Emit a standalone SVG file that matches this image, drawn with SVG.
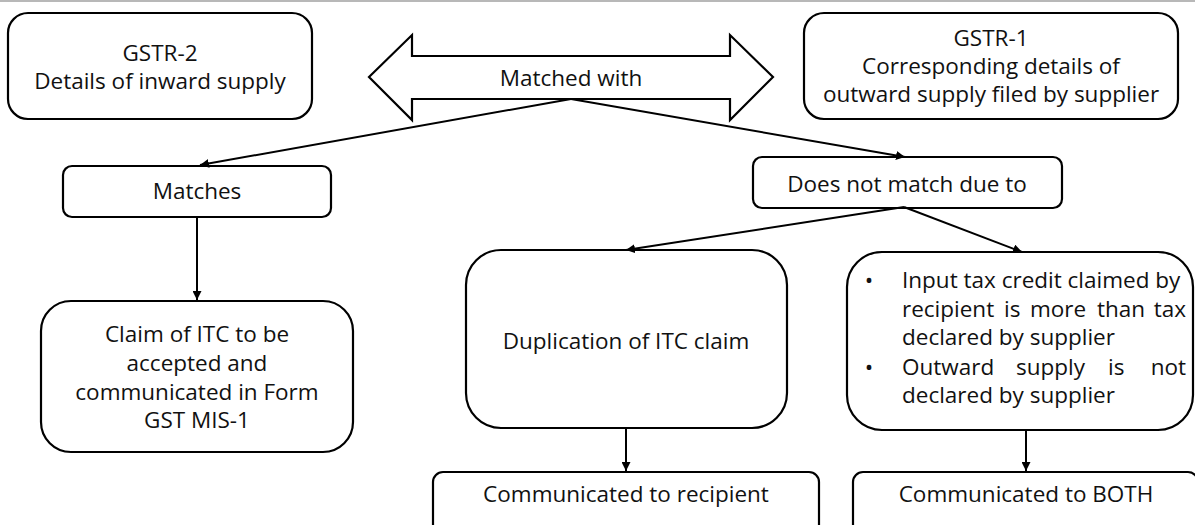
<svg xmlns="http://www.w3.org/2000/svg" width="1195" height="525" viewBox="0 0 1195 525">
<defs>
<style>
.box{fill:#fff;stroke:#000;stroke-width:2.2}
.t{font-family:"Open Sans","Noto Sans","Liberation Sans",sans-serif;font-size:22.5px;fill:#111}
.c{text-anchor:middle}
.e{text-anchor:end}
.ln{stroke:#000;stroke-width:2;fill:none}
</style>
<marker id="ah" viewBox="0 0 10 10" refX="10" refY="5" markerWidth="9" markerHeight="9" markerUnits="userSpaceOnUse" orient="auto">
<path d="M0,0 L10,5 L0,10 z" fill="#000"/>
</marker>
</defs>
<rect width="1195" height="525" fill="#fff"/>
<line x1="0" y1="1" x2="1195" y2="1" stroke="#a0a0a0" stroke-width="1.5"/>

<g id="gstr2">
<rect class="box" x="8" y="13" width="304" height="106" rx="20"/>
<text class="t c" x="160" y="61">GSTR-2</text>
<text class="t c" x="160" y="89">Details of inward supply</text>
</g>

<g id="gstr1">
<rect class="box" x="804" y="13" width="374" height="106" rx="20"/>
<text class="t c" x="991" y="46">GSTR-1</text>
<text class="t c" x="991" y="74">Corresponding details of</text>
<text class="t c" x="991" y="102">outward supply filed by supplier</text>
</g>

<g id="matched-with">
<path class="box" d="M369,77 L412,35 L412,56 L730,56 L730,35 L773,77 L730,120 L730,99 L412,99 L412,120 Z"/>
<text class="t c" x="571" y="86">Matched with</text>
</g>

<g id="matches">
<rect class="box" x="63" y="166" width="268" height="51" rx="9"/>
<text class="t c" x="197" y="199">Matches</text>
</g>

<g id="does-not-match">
<rect class="box" x="753" y="157" width="309" height="51" rx="9"/>
<text class="t c" x="907" y="192">Does not match due to</text>
</g>

<g id="claim">
<rect class="box" x="41" y="301" width="312" height="151" rx="30"/>
<text class="t c" x="197" y="342">Claim of ITC to be</text>
<text class="t c" x="197" y="371">accepted and</text>
<text class="t c" x="197" y="400">communicated in Form</text>
<text class="t c" x="197" y="428">GST MIS-1</text>
</g>

<g id="duplication">
<rect class="box" x="466" y="250" width="321" height="178" rx="35"/>
<text class="t c" x="626" y="349">Duplication of ITC claim</text>
</g>

<g id="reasons">
<rect class="box" x="847" y="252" width="346" height="178" rx="35"/>
<text class="t c" x="869" y="288">•</text>
<text class="t" x="902" y="288">Input tax credit claimed by</text>
<text class="t" x="902" y="317">recipient</text>
<text class="t" x="1004" y="317">is</text>
<text class="t" x="1030" y="317">more</text>
<text class="t" x="1097" y="317">than</text>
<text class="t e" x="1186" y="317">tax</text>
<text class="t" x="902" y="345">declared by supplier</text>
<text class="t c" x="869" y="375">•</text>
<text class="t" x="902" y="375">Outward</text>
<text class="t" x="1016" y="375">supply</text>
<text class="t" x="1108" y="375">is</text>
<text class="t e" x="1186" y="375">not</text>
<text class="t" x="902" y="403">declared by supplier</text>
</g>

<g id="to-recipient">
<rect class="box" x="433" y="472" width="386" height="70" rx="10"/>
<text class="t c" x="626" y="502">Communicated to recipient</text>
</g>

<g id="to-both">
<rect class="box" x="853" y="472" width="345" height="70" rx="10"/>
<text class="t c" x="1026" y="502">Communicated to BOTH</text>
</g>

<g id="connectors">
<line class="ln" x1="571" y1="99" x2="200" y2="165" marker-end="url(#ah)"/>
<line class="ln" x1="571" y1="99" x2="905" y2="157" marker-end="url(#ah)"/>
<line class="ln" x1="197" y1="217" x2="197" y2="300" marker-end="url(#ah)"/>
<line class="ln" x1="904" y1="207" x2="626" y2="250" marker-end="url(#ah)"/>
<line class="ln" x1="904" y1="207" x2="1022" y2="252" marker-end="url(#ah)"/>
<line class="ln" x1="626" y1="428" x2="626" y2="471" marker-end="url(#ah)"/>
<line class="ln" x1="1026" y1="430" x2="1026" y2="471" marker-end="url(#ah)"/>
</g>
</svg>
